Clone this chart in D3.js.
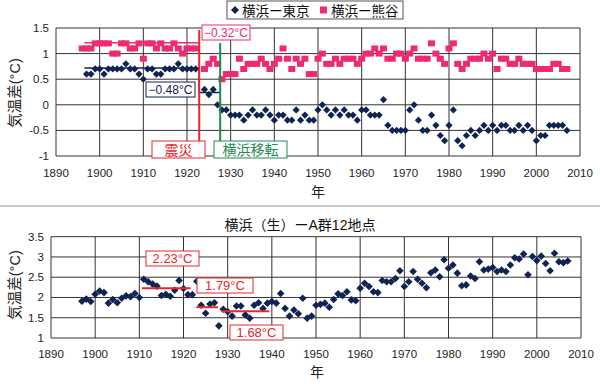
<!DOCTYPE html>
<html>
<head>
<meta charset="utf-8">
<script src="https://cdn.jsdelivr.net/npm/d3@7"></script>
<style>
  body { margin: 0; background: #fff; }
  text { font-family: "Liberation Sans", "Noto Sans CJK JP", sans-serif; }
</style>
</head>
<body>
<div id="chart"></div>
<script>
// DATA
var xTicks = [1890, 1900, 1910, 1920, 1930, 1940, 1950, 1960, 1970, 1980, 1990, 2000, 2010];
var topYTicks = [-1, -0.5, 0, 0.5, 1, 1.5];
var botYTicks = [1, 1.5, 2, 2.5, 3, 3.5];

// yokohama - tokyo, from 1897 (null = hidden behind quake line)
var tokyoStart = 1897;
var tokyoDiff = [0.6, 0.6, 0.7, 0.7, 0.6, 0.7, 0.7, 0.7, 0.7, 0.8, 0.7, 0.7, 0.6, 0.5, 0.7, 0.7, 0.6, 0.6, 0.7, 0.7,
  0.7, 0.8, 0.7, 0.7, 0.7, 0.7, null, 0.3, 0.2, 0.3, 0.0, -0.1, -0.1, -0.2, -0.2, -0.2, -0.3, -0.2, -0.1, -0.2,
  -0.2, -0.1, -0.2, -0.3, -0.2, -0.2, -0.3, -0.3, -0.1, -0.3, -0.2, -0.3, -0.3, -0.1, 0.0, -0.1, -0.2, -0.1, -0.2, -0.1,
  -0.2, -0.2, -0.3, -0.1, -0.1, -0.2, -0.2, -0.2, 0.1, -0.4, -0.5, -0.5, -0.5, -0.5, -0.1, 0.0, -0.3, -0.5, -0.5, -0.2,
  -0.4, -0.6, -0.7, -0.4, -0.1, -0.7, -0.8, -0.6, -0.5, -0.6, -0.5, -0.4, -0.5, -0.4, -0.5, -0.4, -0.4, -0.5, -0.5, -0.4,
  -0.5, -0.4, -0.5, -0.7, -0.6, -0.6, -0.4, -0.4, -0.4, -0.4, -0.5];

// yokohama - kumagaya, from 1896
var kumaStart = 1896;
var kumaDiff = [1.1, 1.1, 1.1, 1.2, 1.2, 1.2, 1.2, 1.0, 1.0, 1.2, 1.2, 1.1, 1.1, 1.2, 0.9, 1.2, 1.2, 1.1, 1.2, 1.1,
  1.1, 1.2, 1.1, 1.0, 1.1, 1.1, 1.1, null, 0.7, 0.8, 0.9, 0.8, 0.5, 0.6, 0.6, 0.6, 0.9, 0.7, 0.8, 0.8,
  0.8, 0.9, 0.8, 0.7, 0.8, 0.9, 1.1, 0.9, 0.7, 0.9, 0.8, 0.9, 0.6, 0.6, 0.9, 1.0, 0.8, 0.8, 0.9, 0.8,
  0.9, 0.9, 0.9, 0.8, 0.9, 1.0, 1.0, 1.1, 1.0, 1.1, 0.9, 0.9, 1.0, 1.0, 0.9, 1.0, 1.1, 0.9, 0.9, 0.9,
  1.2, 1.0, 0.9, 0.8, 1.1, 1.2, 0.8, 0.7, 0.8, 0.9, 0.9, 0.9, 1.0, 0.9, 1.0, 0.7, 0.9, 0.9, 0.8, 0.8,
  0.9, 0.8, 0.8, 0.8, 0.7, 0.7, 0.7, 0.7, 0.8, 0.8, 0.7, 0.7];

// yokohama (raw) - group A 12 stations, from 1897
var groupStart = 1897;
var groupDiff = [1.91, 1.96, 1.9, 2.08, 2.16, 2.12, 1.86, 1.95, 1.87, 1.98, 2.04, 2.02, 2.1, 2.0, 2.45, 2.39, 2.33, 2.28,
  2.05, 2.08, 2.03, 2.18, 2.42, 2.22, 2.07, 2.07, 2.4, 1.81, 1.61, 1.84, 1.87, 1.3, 1.71, 1.65, 1.54, 1.79, 1.79,
  1.57, 1.49, 1.81, 1.87, 1.73, 1.86, 1.9, 1.86, 2.1, 1.73, 1.54, 1.69, 1.6, 1.98, 1.49, 1.54, 1.81, 1.83, 1.86,
  1.76, 1.95, 2.09, 2.05, 2.14, 1.94, 1.92, 2.23, 2.35, 2.27, 2.14, 2.12, 2.42, 2.39, 2.39, 2.47, 2.66, 2.27, 2.39,
  2.64, 2.45, 2.35, 2.24, 2.61, 2.68, 2.51, 2.93, 2.72, 2.8, 2.6, 2.29, 2.31, 2.53, 2.47, 2.88, 2.68, 2.7, 2.74,
  2.64, 2.68, 2.64, 2.8, 2.98, 2.95, 3.07, 2.56, 3.01, 2.91, 3.02, 2.84, 2.66, 3.09, 2.88, 2.86, 2.9];

// period means (step lines) and labels
var tokyoMeans = [[1896.5, 0.72], [1922.8, 0.72], [1922.8, 0.24], [1927.6, 0.24]];
var kumaMeans = [[1896.5, 1.21], [1922.8, 1.21]];
var groupMeans = [
  {from: 1910.6, to: 1921.6, v: 2.23, label: "2.23°C"},
  {from: 1922.9, to: 1927.8, v: 1.76, label: "1.79°C"},
  {from: 1928.6, to: 1939.4, v: 1.66, label: "1.68°C"}
];
var legendNames = ["横浜ー東京", "横浜ー熊谷"];

var navy = "#0f2452";
var pink = "#ee2a72";
var red = "#e8262c";
var green = "#1f8a50";

var svg = d3.select("#chart").append("svg")
  .attr("width", 600)
  .attr("height", 384);

function toPoints(start, vals) {
  var pts = [];
  for (var i = 0; i < vals.length; i++) {
    if (vals[i] !== null) pts.push({year: start + i, v: vals[i]});
  }
  return pts;
}

function diamond(r) {
  return "M0," + (-r) + "L" + r + ",0L0," + r + "L" + (-r) + ",0Z";
}

// draws grid, border, tick labels for one panel
function panel(x, y, yTicks, labelY) {
  var g = svg.append("g");
  g.selectAll(".hgrid").data(yTicks).enter().append("line")
    .attr("x1", x.range()[0]).attr("x2", x.range()[1])
    .attr("y1", function(d) { return y(d); })
    .attr("y2", function(d) { return y(d); })
    .attr("stroke", "#333").attr("stroke-width", 1);
  g.selectAll(".vgrid").data(xTicks).enter().append("line")
    .attr("x1", function(d) { return x(d); })
    .attr("x2", function(d) { return x(d); })
    .attr("y1", y.range()[0]).attr("y2", y.range()[1])
    .attr("stroke", "#333").attr("stroke-width", 1);

  g.selectAll(".ylab").data(yTicks).enter().append("text")
    .attr("x", x.range()[0] - 7)
    .attr("y", function(d) { return y(d) + 4; })
    .attr("text-anchor", "end")
    .attr("font-size", 11.5)
    .attr("fill", "#222")
    .text(function(d) { return String(d); });

  g.selectAll(".xlab").data(xTicks).enter().append("text")
    .attr("x", function(d) { return x(d); })
    .attr("y", labelY)
    .attr("text-anchor", "middle")
    .attr("font-size", 11.5)
    .attr("fill", "#222")
    .text(function(d) { return d; });
  return g;
}

function boxLabel(x0, y0, w, h, txt, col, fs) {
  svg.append("rect")
    .attr("x", x0).attr("y", y0).attr("width", w).attr("height", h)
    .attr("fill", "#fff").attr("stroke", col).attr("stroke-width", 1);
  svg.append("text")
    .attr("x", x0 + w / 2).attr("y", y0 + h / 2 + fs * 0.36)
    .attr("text-anchor", "middle")
    .attr("font-size", fs)
    .attr("fill", col)
    .text(txt);
}

// TOP PANEL
var xTop = d3.scaleLinear().domain([1890, 2010]).range([56, 580]);
var yTop = d3.scaleLinear().domain([-1, 1.5]).range([156, 28]);
panel(xTop, yTop, topYTicks, 177);

var line = d3.line()
  .x(function(d) { return xTop(d[0]); })
  .y(function(d) { return yTop(d[1]); });

svg.append("path").attr("d", line(kumaMeans))
  .attr("fill", "none").attr("stroke", pink).attr("stroke-width", 1.5);
svg.append("path").attr("d", line(tokyoMeans))
  .attr("fill", "none").attr("stroke", navy).attr("stroke-width", 1.5);

svg.append("g").selectAll("rect").data(toPoints(kumaStart, kumaDiff)).enter().append("rect")
  .attr("x", function(d) { return xTop(d.year) - 3.5; })
  .attr("y", function(d) { return yTop(d.v) - 3; })
  .attr("width", 7).attr("height", 6)
  .attr("fill", pink);

svg.append("g").selectAll("path").data(toPoints(tokyoStart, tokyoDiff)).enter().append("path")
  .attr("d", diamond(3.6))
  .attr("transform", function(d) { return "translate(" + xTop(d.year) + "," + yTop(d.v) + ")"; })
  .attr("fill", navy);

// quake + relocation markers
svg.append("line")
  .attr("x1", xTop(1922.8)).attr("x2", xTop(1922.8))
  .attr("y1", 30).attr("y2", 141)
  .attr("stroke", red).attr("stroke-width", 2);
svg.append("line")
  .attr("x1", xTop(1927.6)).attr("x2", xTop(1927.6))
  .attr("y1", 43).attr("y2", 141)
  .attr("stroke", green).attr("stroke-width", 2);

boxLabel(202, 25, 48, 15, "−0.32°C", pink, 12);
boxLabel(146, 82, 49, 15, "−0.48°C", navy, 12);
boxLabel(152, 141, 53, 17, "震災", red, 14);
boxLabel(214, 141, 73, 17, "横浜移転", green, 14);

// legend
svg.append("rect")
  .attr("x", 227).attr("y", 1).attr("width", 176).attr("height", 18)
  .attr("fill", "#fff").attr("stroke", "#555");
svg.append("path").attr("d", diamond(4)).attr("transform", "translate(235,10)").attr("fill", navy);
svg.append("text").attr("x", 242).attr("y", 15.5).attr("font-size", 13.5).attr("fill", "#111").text(legendNames[0]);
svg.append("rect").attr("x", 320).attr("y", 6.5).attr("width", 7).attr("height", 7).attr("fill", pink);
svg.append("text").attr("x", 331).attr("y", 15.5).attr("font-size", 13.5).attr("fill", "#111").text(legendNames[1]);

// axis titles
svg.append("text")
  .attr("transform", "translate(20,93) rotate(-90)")
  .attr("text-anchor", "middle").attr("font-size", 14.5).attr("fill", "#222")
  .text("気温差(°C)");
svg.append("text")
  .attr("x", 318).attr("y", 197)
  .attr("text-anchor", "middle").attr("font-size", 14).attr("fill", "#222")
  .text("年");

// separator
svg.append("line")
  .attr("x1", 0).attr("x2", 600).attr("y1", 206).attr("y2", 206)
  .attr("stroke", "#c8c8c8").attr("stroke-width", 2);

// BOTTOM PANEL
var xBot = d3.scaleLinear().domain([1890, 2010]).range([51, 581]);
var yBot = d3.scaleLinear().domain([1, 3.5]).range([338, 236.7]);
panel(xBot, yBot, botYTicks, 358);

svg.append("text")
  .attr("x", 300).attr("y", 230)
  .attr("text-anchor", "middle").attr("font-size", 14).attr("fill", "#111")
  .text("横浜（生）ーA群12地点");

svg.append("g").selectAll("path").data(toPoints(groupStart, groupDiff)).enter().append("path")
  .attr("d", diamond(3.8))
  .attr("transform", function(d) { return "translate(" + xBot(d.year) + "," + yBot(d.v) + ")"; })
  .attr("fill", navy);

svg.append("g").selectAll("line").data(groupMeans).enter().append("line")
  .attr("x1", function(d) { return xBot(d.from); })
  .attr("x2", function(d) { return xBot(d.to); })
  .attr("y1", function(d) { return yBot(d.v); })
  .attr("y2", function(d) { return yBot(d.v); })
  .attr("stroke", red).attr("stroke-width", 2);

boxLabel(146, 251, 53, 15, groupMeans[0].label, red, 13);
boxLabel(197, 278, 56, 15, groupMeans[1].label, red, 13);
boxLabel(230, 325, 53, 15, groupMeans[2].label, red, 13);

svg.append("text")
  .attr("transform", "translate(20,285) rotate(-90)")
  .attr("text-anchor", "middle").attr("font-size", 14.5).attr("fill", "#222")
  .text("気温差(°C)");
svg.append("text")
  .attr("x", 317).attr("y", 377)
  .attr("text-anchor", "middle").attr("font-size", 14).attr("fill", "#222")
  .text("年");
</script>
</body>
</html>
